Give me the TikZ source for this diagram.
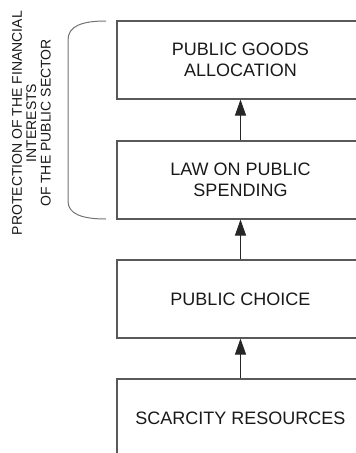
\documentclass[tikz,border=0pt]{standalone}
\usepackage{fontspec}
\setmainfont{Liberation Sans}
\usetikzlibrary{arrows.meta}
\begin{document}
\begin{tikzpicture}[x=1pt,y=-1pt,
  stagebox/.style={draw=black!65, line width=1.1pt, minimum width=247pt, minimum height=78pt,
    inner sep=0pt, align=center, font=\fontsize{18}{21.5}\selectfont, text=black!90},
  uparrow/.style={draw=black!85, line width=1pt, -{Triangle[length=16pt,width=11pt]}},
  bracket/.style={draw=black!55, line width=1pt},
  sidelabel/.style={rotate=90, align=center, font=\fontsize{14}{14.4}\selectfont, text=black!90}]
  \useasboundingbox (0,0) rectangle (356,453);
  \clip (0,0) rectangle (356,453);

  % stages, bottom to top
  \node[stagebox] (goods)    at (240.5,60)  {PUBLIC GOODS\\ALLOCATION};
  \node[stagebox] (law)      at (240.5,180) {LAW ON PUBLIC\\SPENDING};
  \node[stagebox] (choice)   at (240.5,299) {PUBLIC CHOICE};
  \node[stagebox] (scarcity) at (240.5,418) {SCARCITY RESOURCES};

  % links between stages
  \draw[uparrow] (scarcity.north) -- (choice.south);
  \draw[uparrow] (choice.north) -- (law.south);
  \draw[uparrow] (law.north) -- (goods.south);

  % bracket grouping the two upper stages
  \coordinate (btop) at (106,21);
  \coordinate (bbot) at (106,219);
  \draw[bracket] (btop) .. controls (82,21) and (68,26) .. (68,40)
    -- (68,201) .. controls (68,214) and (82,219) .. (bbot);

  \node[sidelabel] (prot) at (31.4,123) {PROTECTION OF THE FINANCIAL\\INTERESTS\\OF THE PUBLIC SECTOR};
\end{tikzpicture}
\end{document}
